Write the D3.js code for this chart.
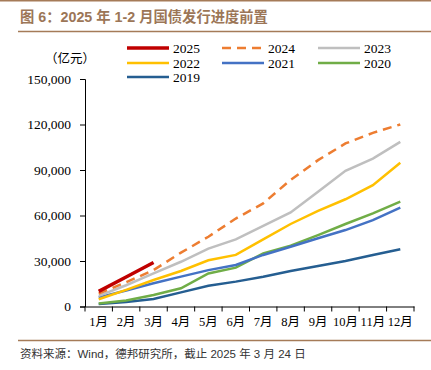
<!DOCTYPE html>
<html>
<head>
<meta charset="utf-8">
<script src="https://cdn.jsdelivr.net/npm/d3@7"></script>
<style>
  body { margin: 0; background: #fff; }
  svg { display: block; }
  .serif { font-family: "Liberation Serif", "Times New Roman", "Noto Sans CJK SC", serif; }
</style>
</head>
<body>
<script>
var months = ['1月','2月','3月','4月','5月','6月','7月','8月','9月','10月','11月','12月']
var yTicks = [0, 30000, 60000, 90000, 120000, 150000]

var v2025 = [10000, 19500, 29000]
var v2024 = [8500, 16000, 24000, 35500, 46000, 58000, 68000, 83500, 96500, 107500, 114500, 120000]
var v2023 = [7000, 14000, 21800, 29500, 38200, 44300, 53200, 62000, 75700, 89500, 97500, 108500]
var v2022 = [4800, 11000, 17500, 23400, 30500, 34000, 44300, 54400, 63000, 70700, 80000, 94800]
var v2021 = [6000, 10500, 15300, 19700, 24000, 27400, 34000, 39400, 45000, 50400, 57000, 65200]
var v2020 = [2000, 4000, 7600, 12000, 21800, 25600, 35000, 40100, 47100, 54400, 61400, 69100]
var v2019 = [1700, 3000, 5000, 9300, 13700, 16400, 19600, 23400, 26700, 30000, 34000, 37700]

var series = [
  {name: '2025', values: v2025, color: '#C00000', width: 3.5},
  {name: '2024', values: v2024, color: '#ED7D31', width: 2.5, dash: '9,6'},
  {name: '2023', values: v2023, color: '#BFBFBF', width: 2.5},
  {name: '2022', values: v2022, color: '#FFC000', width: 2.5},
  {name: '2021', values: v2021, color: '#4472C4', width: 2.5},
  {name: '2020', values: v2020, color: '#70AD47', width: 2.5},
  {name: '2019', values: v2019, color: '#255E91', width: 2.5}
]

var W = 431, H = 370
var svg = d3.select('body').append('svg').attr('width', W).attr('height', H)

var brown = '#A57B58'

// header
svg.append('line').attr('x1', 0).attr('x2', W).attr('y1', 0.75).attr('y2', 0.75)
  .attr('stroke', brown).attr('stroke-width', 1.5)
svg.append('text').attr('x', 20).attr('y', 22)
  .text('图 6：2025 年 1-2 月国债发行进度前置')
  .style('font-family', '"Liberation Sans", "Noto Sans CJK SC", sans-serif')
  .style('font-weight', 'bold').style('font-size', '14.3px').attr('fill', '#9C7657')
svg.append('line').attr('x1', 18).attr('x2', W).attr('y1', 31.5).attr('y2', 31.5)
  .attr('stroke', brown).attr('stroke-width', 1.5)

// footer
svg.append('line').attr('x1', 18).attr('x2', W).attr('y1', 340.5).attr('y2', 340.5)
  .attr('stroke', brown).attr('stroke-width', 1.5)
svg.append('text').attr('x', 20).attr('y', 358)
  .text('资料来源：Wind，德邦研究所，截止 2025 年 3 月 24 日')
  .style('font-family', '"Liberation Sans", "Noto Sans CJK SC", sans-serif')
  .style('font-size', '11.5px').attr('fill', '#333')

var m = {left: 85, right: 17, top: 79, bottom: 63.5}
var x = d3.scaleBand().domain(months).range([m.left, W - m.right])
var y = d3.scaleLinear().domain([0, 150000]).range([H - m.bottom, m.top])

var g = svg.append('g')

// y axis
var yAxis = g.append('g').attr('transform', `translate(${m.left},0)`)
  .call(d3.axisLeft(y).tickValues(yTicks).tickSize(5).tickPadding(9)
    .tickFormat(d3.format(',')))
yAxis.select('.domain').attr('stroke', '#000')
yAxis.selectAll('text').attr('class', 'serif').style('font-size', '13.5px').attr('fill', '#000')

// x axis
var xAxis = g.append('g').attr('transform', `translate(0,${y(0)})`)
  .call(d3.axisBottom(x).tickSize(0).tickPadding(11))
xAxis.select('.domain').attr('stroke', '#000')
xAxis.selectAll('text').attr('class', 'serif').style('font-size', '12.5px').attr('fill', '#000')
// tick marks at band edges
xAxis.selectAll('line.edge').data(d3.range(months.length + 1)).enter().append('line')
  .attr('x1', i => m.left + i * x.step()).attr('x2', i => m.left + i * x.step())
  .attr('y1', 0).attr('y2', 5).attr('stroke', '#000')

svg.append('text').attr('class', 'serif').attr('x', 70).attr('y', 63)
  .attr('text-anchor', 'middle').style('font-size', '12.5px').text('（亿元）')

// lines
var line = d3.line()
  .x((d, i) => x(months[i]) + x.bandwidth() / 2)
  .y(d => y(d))

series.slice().reverse().forEach(s => {
  g.append('path').datum(s.values)
    .attr('d', line)
    .attr('fill', 'none')
    .attr('stroke', s.color)
    .attr('stroke-width', s.width)
    .attr('stroke-dasharray', s.dash || null)
})

// legend
var legCols = [127, 222, 318]
var legRows = [48, 63, 77]
series.forEach((s, i) => {
  var lx = legCols[i % 3], ly = legRows[Math.floor(i / 3)]
  var lg = svg.append('g').attr('transform', `translate(${lx},${ly})`)
  lg.append('line').attr('x1', 0).attr('x2', 42).attr('y1', 0).attr('y2', 0)
    .attr('stroke', s.color).attr('stroke-width', s.width)
    .attr('stroke-dasharray', s.dash || null)
  lg.append('text').attr('class', 'serif').attr('x', 46).attr('y', 0).attr('dy', '0.35em')
    .style('font-size', '13.5px').text(s.name)
})
</script>
</body>
</html>
